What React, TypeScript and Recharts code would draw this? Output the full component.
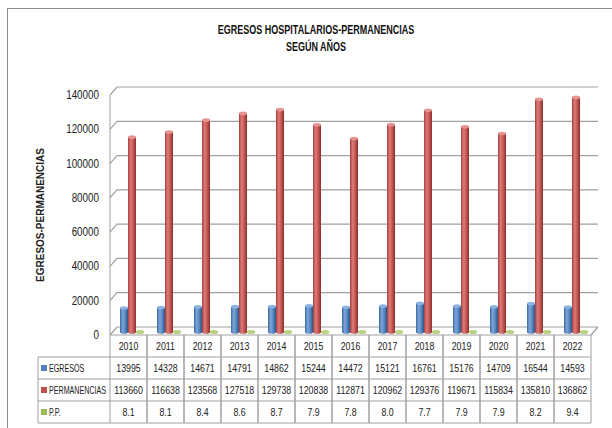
import { BarChart, Bar, XAxis, YAxis, CartesianGrid } from 'recharts';

const years = ['2010', '2011', '2012', '2013', '2014', '2015', '2016', '2017', '2018', '2019', '2020', '2021', '2022'];
const egresos = [13995, 14328, 14671, 14791, 14862, 15244, 14472, 15121, 16761, 15176, 14709, 16544, 14593];
const permanencias = [113660, 116638, 123568, 127518, 129738, 120838, 112871, 120962, 129376, 119671, 115834, 135810, 136862];
const pp = [8.1, 8.1, 8.4, 8.6, 8.7, 7.9, 7.8, 8.0, 7.7, 7.9, 7.9, 8.2, 9.4];
const yTicks = [0, 20000, 40000, 60000, 80000, 100000, 120000, 140000];
const seriesNames = ['EGRESOS', 'PERMANENCIAS', 'P.P.'];

const chartData = years.map((year, i) => ({
  year,
  egresos: egresos[i],
  permanencias: permanencias[i],
  pp: pp[i],
}));

// no narrow font installed, so Liberation Sans gets squeezed horizontally
const FONT = "'Liberation Sans', Arial, sans-serif";
const BLUE = '#4F81BD';
const RED = '#C0504D';
const GREEN = '#9BBB59';
const LINE = '#a0a0a0';
const INK = '#222';

const CHART_W = 612;
const CHART_H = 428;
const MARGIN = { top: 95, right: 21, bottom: 5, left: 0 };
const Y_AXIS_W = 110;
const PLOT_W = CHART_W - MARGIN.right - Y_AXIS_W;
const ROW_H = 22;
const DEPTH_X = 7;
const DEPTH_Y = 8;

function Narrow({ x, y, scale, anchor = 'middle', size, children }: any) {
  return (
    <text
      transform={`translate(${x},${y}) scale(${scale},1)`}
      textAnchor={anchor}
      fontFamily={FONT}
      fontSize={size}
      fill={INK}
      stroke="none"
    >
      {children}
    </text>
  );
}

function Cylinder(props: any) {
  const { x, y, width, height, gradId, top } = props;
  const rx = width / 2;
  const h = Math.max(height, 0);
  return (
    <g transform="translate(3,-3)">
      <rect x={x} y={y} width={width} height={h} fill={`url(#${gradId})`} />
      <ellipse cx={x + rx} cy={y + h} rx={rx} ry={1.8} fill={`url(#${gradId})`} />
      <ellipse cx={x + rx} cy={y} rx={rx} ry={1.8} fill={top} />
    </g>
  );
}

function GridLine(props: any) {
  const { x1, y1, x2, y, height } = props;
  const isFloor = Math.abs(y1 - (y + height)) < 1;
  const d = `M${x1},${y1} L${x1 + DEPTH_X},${y1 - DEPTH_Y} L${x2 + DEPTH_X},${y1 - DEPTH_Y}` +
    (isFloor ? ` M${x2},${y1} L${x2 + DEPTH_X},${y1 - DEPTH_Y}` : '');
  return <path d={d} stroke={LINE} strokeWidth={1.2} fill="none" />;
}

function YTick(props: any) {
  const { x, y, payload } = props;
  return <Narrow x={x} y={y + 4} scale={0.82} anchor="end" size={12}>{payload.value}</Narrow>;
}

function TableTick(props: any) {
  const { x, y, index } = props;
  const colW = PLOT_W / years.length;
  const left = x - colW / 2;
  const cells = [years[index], String(egresos[index]), String(permanencias[index]), pp[index].toFixed(1)];
  const colors = [BLUE, RED, GREEN];
  return (
    <g>
      <line x1={left} y1={y} x2={left} y2={y + ROW_H * 4} stroke={LINE} />
      <line x1={left + colW} y1={y} x2={left + colW} y2={y + ROW_H * 4} stroke={LINE} />
      {[1, 2, 3, 4].map((r) => (
        <line key={r} x1={left} y1={y + ROW_H * r} x2={left + colW} y2={y + ROW_H * r} stroke={LINE} />
      ))}
      {cells.map((c, r) => (
        <Narrow key={r} x={x} y={y + ROW_H * r + ROW_H / 2 + 4} scale={0.8} size={11}>{c}</Narrow>
      ))}
      {index === 0 && (
        <g>
          <line x1={38} y1={y + ROW_H} x2={38} y2={y + ROW_H * 4} stroke={LINE} />
          {[1, 2, 3, 4].map((r) => (
            <line key={r} x1={38} y1={y + ROW_H * r} x2={left} y2={y + ROW_H * r} stroke={LINE} />
          ))}
          {seriesNames.map((name, r) => (
            <g key={name}>
              <rect x={41} y={y + ROW_H * (r + 1) + 8} width={6} height={6} fill={colors[r]} />
              <Narrow x={49} y={y + ROW_H * (r + 1) + ROW_H / 2 + 4} scale={0.68} anchor="start" size={10.5}>
                {name}
              </Narrow>
            </g>
          ))}
        </g>
      )}
    </g>
  );
}

export default function App() {
  return (
    <div style={{ position: 'fixed', left: 0, top: 0, width: CHART_W, height: CHART_H, overflow: 'hidden', background: '#fff' }}>
      <div style={{ position: 'absolute', left: 7, top: 8, width: 640, height: 440, border: '1px solid #8c8c8c' }} />
      <div
        style={{
          position: 'absolute', left: 0, width: 632, top: 22, textAlign: 'center',
          fontFamily: FONT, fontWeight: 'bold', fontSize: 12.5, lineHeight: '17px', color: '#111',
          transform: 'scaleX(0.72)', transformOrigin: '316px 0',
        }}
      >
        EGRESOS HOSPITALARIOS-PERMANENCIAS
        <br />
        SEGÚN AÑOS
      </div>
      <div
        style={{
          position: 'absolute', left: 40, top: 215, transform: 'translate(-50%, -50%) rotate(-90deg)',
          whiteSpace: 'nowrap', fontFamily: FONT, fontWeight: 'bold', fontSize: 10, color: INK,
        }}
      >
        EGRESOS-PERMANENCIAS
      </div>
      <div style={{ position: 'absolute', left: 0, top: 0 }}>
        <BarChart width={CHART_W} height={CHART_H} data={chartData} margin={MARGIN} barSize={8} barGap={0}>
          <defs>
            <linearGradient id="gBlue" x1="0" y1="0" x2="1" y2="0">
              <stop offset="0%" stopColor="#3a6aa3" />
              <stop offset="35%" stopColor="#7fa6d8" />
              <stop offset="70%" stopColor={BLUE} />
              <stop offset="100%" stopColor="#2b5384" />
            </linearGradient>
            <linearGradient id="gRed" x1="0" y1="0" x2="1" y2="0">
              <stop offset="0%" stopColor="#a8403d" />
              <stop offset="35%" stopColor="#dc7c79" />
              <stop offset="70%" stopColor={RED} />
              <stop offset="100%" stopColor="#8a2f2c" />
            </linearGradient>
            <linearGradient id="gGreen" x1="0" y1="0" x2="1" y2="0">
              <stop offset="0%" stopColor="#7f9c45" />
              <stop offset="50%" stopColor="#b6d17a" />
              <stop offset="100%" stopColor="#6f8a3a" />
            </linearGradient>
          </defs>
          <CartesianGrid vertical={false} horizontal={(p: any) => <GridLine key={p.key} {...p} />} />
          <XAxis
            dataKey="year"
            height={ROW_H * 4}
            interval={0}
            tickLine={false}
            tickSize={0}
            tickMargin={0}
            axisLine={{ stroke: LINE }}
            tick={(p: any) => <TableTick key={p.index} {...p} />}
          />
          <YAxis
            width={Y_AXIS_W}
            domain={[0, 140000]}
            ticks={yTicks}
            tickLine={false}
            tickSize={0}
            tickMargin={11}
            axisLine={{ stroke: LINE }}
            tick={(p: any) => <YTick key={p.index} {...p} />}
          />
          <Bar dataKey="egresos" fill={BLUE} isAnimationActive={false}
            shape={(p: any) => <Cylinder {...p} gradId="gBlue" top="#8db3e2" />} />
          <Bar dataKey="permanencias" fill={RED} isAnimationActive={false}
            shape={(p: any) => <Cylinder {...p} gradId="gRed" top="#e6938f" />} />
          <Bar dataKey="pp" fill={GREEN} isAnimationActive={false}
            shape={(p: any) => <Cylinder {...p} gradId="gGreen" top="#b9d47f" />} />
        </BarChart>
      </div>
    </div>
  );
}
